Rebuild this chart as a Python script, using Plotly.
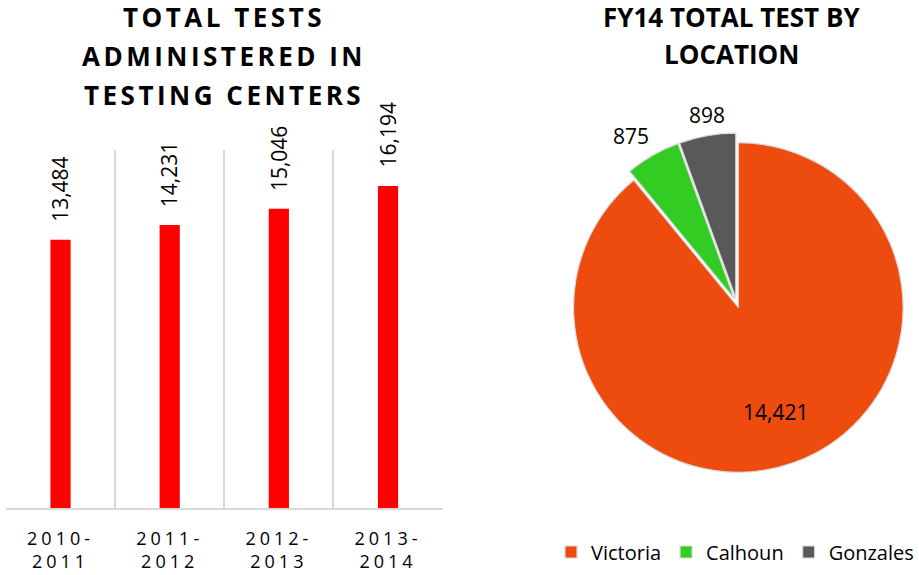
import math
import plotly.graph_objects as go

# Total tests per fiscal year
years = ["2010-<br>2011", "2011-<br>2012", "2012-<br>2013", "2013-<br>2014"]
totals = [13484, 14231, 15046, 16194]

# FY14 tests by location
locations = ["Victoria", "Calhoun", "Gonzales"]
loc_tests = [14421, 875, 898]
loc_colors = ["#EE4B0E", "#33CC22", "#595959"]
loc_label_inside = [True, False, False]

FONT = "Open Sans"
W, H = 919, 575


def spaced(text, px):
    return f'<span style="letter-spacing:{px}px">{text}</span>'


fig = go.Figure()

xs = list(range(len(years)))
fig.add_trace(go.Bar(
    x=xs, y=totals, width=0.185,
    marker=dict(color="#FF0000", line=dict(width=0)),
    showlegend=False, hoverinfo="skip",
    xaxis="x", yaxis="y",
))

# Value labels above each bar, rotated
for xi, v in zip(xs, totals):
    fig.add_annotation(
        x=xi, y=v, xref="x", yref="y", text=f"{v:,}",
        textangle=-90, showarrow=False, xanchor="center", yanchor="bottom",
        yshift=16, font=dict(family=FONT, size=21, color="#000000"),
    )

# Pie geometry (pixels from the top-left corner)
PULL = 0.03
pie_x0, pie_x1 = 571.3, 913.3
pie_y0, pie_y1 = 131.8, 473.8
pie_cx = (pie_x0 + pie_x1) / 2
pie_cy = (pie_y0 + pie_y1) / 2
pie_r = (pie_x1 - pie_x0) / 2 / (1 + PULL)

fig.add_trace(go.Pie(
    labels=locations, values=loc_tests, sort=False, direction="clockwise",
    rotation=0,
    marker=dict(colors=loc_colors, line=dict(color="#D9D9D9", width=1.2)),
    pull=[PULL] * len(loc_tests),
    textinfo="none",
    domain=dict(x=[pie_x0 / W, pie_x1 / W], y=[1 - pie_y1 / H, 1 - pie_y0 / H]),
    hoverinfo="skip",
))

# Slice value labels, placed along each slice's bisector
total = sum(loc_tests)
cum = 0
for v, inside in zip(loc_tests, loc_label_inside):
    theta = 2 * math.pi * (cum + v / 2) / total
    cum += v
    s, c = math.sin(theta), math.cos(theta)
    if inside:
        rr = pie_r * 0.70
        xa, ya = "center", "middle"
    else:
        rr = pie_r * (1 + PULL) + 3
        xa = "center" if abs(s) < 0.35 else ("right" if s < 0 else "left")
        ya = "bottom" if c > 0.35 else ("top" if c < -0.35 else "middle")
    px = pie_cx + rr * s
    py = pie_cy - rr * c
    fig.add_annotation(
        x=px / W, y=1 - py / H, xref="paper", yref="paper",
        text=f"{v:,}", showarrow=False, xanchor=xa, yanchor=ya,
        font=dict(family=FONT, size=21, color="#000000"),
    )

# Chart titles
left_title = ["TOTAL TESTS", "ADMINISTERED IN", "TESTING CENTERS"]
for i, line in enumerate(left_title):
    fig.add_annotation(
        x=226 / W, y=1 - (17 + 39 * i) / H, xref="paper", yref="paper",
        text=spaced(line, 3.5), showarrow=False, xanchor="center", yanchor="middle",
        font=dict(family=FONT, size=26, color="#000000", weight="bold"),
    )

right_title = ["FY14 TOTAL TEST BY", "LOCATION"]
for i, line in enumerate(right_title):
    fig.add_annotation(
        x=737 / W, y=1 - (17 + 37 * i) / H, xref="paper", yref="paper",
        text=line, showarrow=False, xanchor="center", yanchor="middle",
        font=dict(family=FONT, size=26, color="#000000", weight="bold"),
    )

fig.update_layout(
    width=W, height=H,
    margin=dict(l=0, r=0, t=0, b=0),
    paper_bgcolor="#FFFFFF", plot_bgcolor="#FFFFFF",
    font=dict(family=FONT, color="#000000"),
    xaxis=dict(
        domain=[6 / W, 446 / W], range=[-0.5, 3.5],
        tickmode="array", tickvals=xs,
        ticktext=[spaced(t, 4) for t in years],
        tickfont=dict(family=FONT, size=18, color="#000000"),
        ticklabelstandoff=13,
        showgrid=False, zeroline=False, ticks="", ticklen=0,
        showline=True, linecolor="#D9D9D9", linewidth=2,
        minor=dict(tickmode="linear", tick0=-0.5, dtick=1, showgrid=True,
                   gridcolor="#D9D9D9", gridwidth=1.5, ticks=""),
        fixedrange=True,
    ),
    yaxis=dict(
        domain=[67 / H, 425 / H], range=[0, 18000],
        showgrid=False, zeroline=False, showticklabels=False, ticks="",
        showline=False, fixedrange=True,
    ),
    legend=dict(
        orientation="h", x=741 / W, y=1 - 552 / H, xanchor="center", yanchor="middle",
        font=dict(family=FONT, size=20, color="#000000"),
        itemwidth=30, bgcolor="rgba(0,0,0,0)",
    ),
    showlegend=True,
)

fig.write_html("out.html")
